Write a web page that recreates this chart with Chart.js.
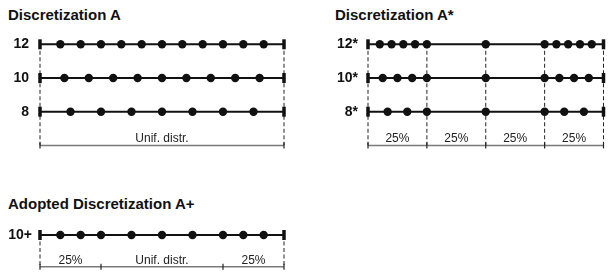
<!DOCTYPE html>
<html><head><meta charset="utf-8">
<script src="https://cdn.jsdelivr.net/npm/chart.js@4/dist/chart.umd.min.js"></script>
<style>
html,body{margin:0;padding:0;background:#fff;}
#wrap{position:relative;width:612px;height:276px;overflow:hidden;background:#fff;font-family:"Liberation Sans",Arial,sans-serif;}
.ttl{position:absolute;font-weight:bold;font-size:15px;line-height:15px;color:#111;white-space:nowrap;}
canvas{position:absolute;}
</style></head><body>
<div id="wrap">
<div class="ttl" style="left:8px;top:7px">Discretization A</div>
<div class="ttl" style="left:335px;top:7px">Discretization A*</div>
<div class="ttl" style="left:8px;top:196px">Adopted Discretization A+</div>
<canvas id="cA" width="306" height="170" style="left:0;top:0"></canvas>
<canvas id="cAs" width="306" height="170" style="left:306px;top:0"></canvas>
<canvas id="cAp" width="306" height="110" style="left:0;top:180px"></canvas>
</div>
<script>
// Node positions along the member, as fraction of its length
const rowLabelsA = ['12', '10', '8'];
const nodesA12 = [0, 0.0833, 0.1667, 0.25, 0.3333, 0.4167, 0.5, 0.5833, 0.6667, 0.75, 0.8333, 0.9167, 1];
const nodesA10 = [0, 0.1, 0.2, 0.3, 0.4, 0.5, 0.6, 0.7, 0.8, 0.9, 1];
const nodesA8 = [0, 0.125, 0.25, 0.375, 0.5, 0.625, 0.75, 0.875, 1];
const breaksA = [0, 1];
const segLabelsA = ['Unif. distr.'];
const guidesA = [0, 1];

const rowLabelsAs = ['12*', '10*', '8*'];
const nodesAs12 = [0, 0.05, 0.1, 0.15, 0.2, 0.25, 0.5, 0.75, 0.8, 0.85, 0.9, 0.95, 1];
const nodesAs10 = [0, 0.0625, 0.125, 0.1875, 0.25, 0.5, 0.75, 0.8125, 0.875, 0.9375, 1];
const nodesAs8 = [0, 0.0833, 0.1667, 0.25, 0.5, 0.75, 0.8333, 0.9167, 1];
const breaksAs = [0, 0.25, 0.5, 0.75, 1];
const segLabelsAs = ['25%', '25%', '25%', '25%'];
const guidesAs = [0, 0.25, 0.5, 0.75, 1];

const rowLabelsAp = ['10+'];
const nodesAp10 = [0, 0.0833, 0.1667, 0.25, 0.375, 0.5, 0.625, 0.75, 0.8333, 0.9167, 1];
const breaksAp = [0, 0.25, 0.75, 1];
const segLabelsAp = ['25%', 'Unif. distr.', '25%'];
const guidesAp = [0, 1];

const FONT = '"Liberation Sans", Arial, sans-serif';

function makePanel(id, rowLabels, rowNodes, breaks, segLabels, guides, lay) {
  const n = rowLabels.length;
  const rowYs = rowLabels.map((_, i) => n - i);
  const datasets = [];
  rowNodes.forEach((nodes, i) => {
    const last = nodes.length - 1;
    const isEnd = c => c.dataIndex === 0 || c.dataIndex === last;
    datasets.push({
      data: nodes.map(x => ({x, y: rowYs[i]})),
      showLine: true, borderColor: '#111', borderWidth: 2, clip: false, order: 0,
      pointStyle: c => isEnd(c) ? 'line' : 'circle',
      pointRotation: c => isEnd(c) ? 90 : 0,
      pointRadius: c => isEnd(c) ? 5 : 4.2,
      pointBorderWidth: c => isEnd(c) ? 3.5 : 0,
      pointBackgroundColor: '#111', pointBorderColor: '#111'
    });
  });
  datasets.push({
    data: breaks.map(x => ({x, y: 0})),
    showLine: true, borderColor: '#7a7a7a', borderWidth: 1.5, clip: false, order: 1,
    pointStyle: 'line', pointRotation: 90, pointRadius: 3, pointBorderWidth: 1.2,
    pointBorderColor: '#222', pointBackgroundColor: '#222'
  });
  guides.forEach(g => {
    datasets.push({
      data: [{x: g, y: rowYs[0]}, {x: g, y: 0}],
      showLine: true, borderColor: '#222', borderWidth: 1, borderDash: [4, 2.5],
      pointRadius: 0, clip: false, order: 2
    });
  });
  const segPlugin = {
    id: 'segLabels',
    afterDatasetsDraw(chart) {
      const {ctx, scales: {x, y}} = chart;
      ctx.save();
      ctx.font = '12px ' + FONT;
      ctx.fillStyle = '#222';
      ctx.textAlign = 'center';
      ctx.textBaseline = 'alphabetic';
      segLabels.forEach((t, j) => {
        const mx = (breaks[j] + breaks[j + 1]) / 2;
        ctx.fillText(t, x.getPixelForValue(mx), y.getPixelForValue(0) - 3);
      });
      ctx.restore();
    }
  };
  return new Chart(document.getElementById(id), {
    type: 'scatter',
    data: {datasets},
    plugins: [segPlugin],
    options: {
      responsive: false, animation: false, events: [],
      layout: {padding: {left: 0, right: lay.right, top: lay.top, bottom: lay.bottom}},
      plugins: {legend: {display: false}, tooltip: {enabled: false}, title: {display: false}},
      scales: {
        x: {type: 'linear', min: 0, max: 1, display: false},
        y: {
          type: 'linear', min: -0.4, max: n + 0.4,
          afterFit(s) {
            s.width = lay.axisW;
            s.paddingTop = 0; s.paddingBottom = 0; s.paddingLeft = 0; s.paddingRight = 0;
          },
          afterBuildTicks(s) { s.ticks = rowYs.map(v => ({value: v})); },
          grid: {display: false, drawTicks: false}, border: {display: false},
          ticks: {
            padding: lay.pad, color: '#111',
            font: {family: FONT, size: 14, weight: 'bold'},
            callback: v => { const k = rowYs.indexOf(v); return k >= 0 ? rowLabels[k] : ''; }
          }
        }
      }
    }
  });
}

makePanel('cA', rowLabelsA, [nodesA12, nodesA10, nodesA8], breaksA, segLabelsA, guidesA,
  {right: 22, top: 30.8, bottom: 11.1, axisW: 40, pad: 11});
makePanel('cAs', rowLabelsAs, [nodesAs12, nodesAs10, nodesAs8], breaksAs, segLabelsAs, guidesAs,
  {right: 2, top: 30.8, bottom: 11.1, axisW: 62, pad: 10});
makePanel('cAp', rowLabelsAp, [nodesAp10], breaksAp, segLabelsAp, guidesAp,
  {right: 22, top: 42.3, bottom: 10.6, axisW: 40, pad: 8});
</script>
</body></html>
